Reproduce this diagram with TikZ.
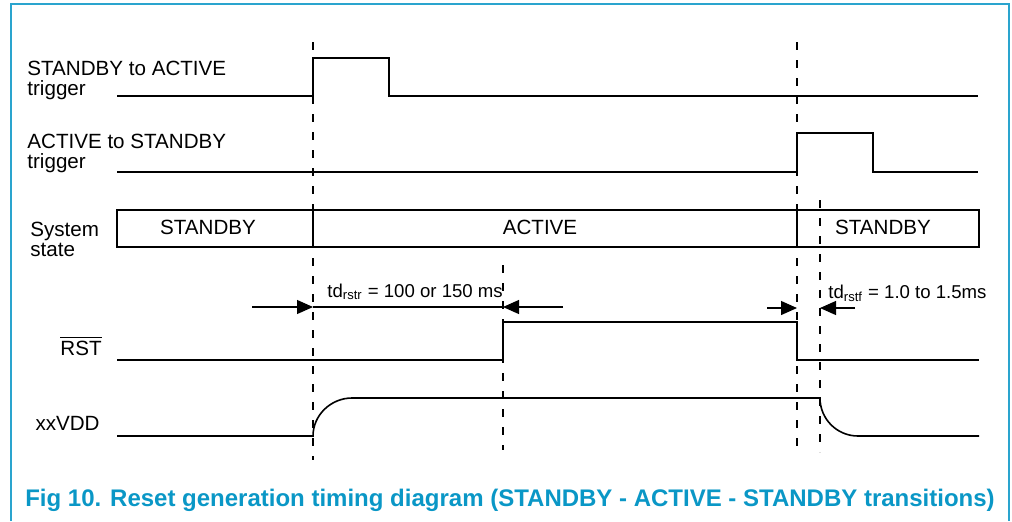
\documentclass[tikz,border=0pt]{standalone}
\usepackage{fontspec}
\setmainfont{Liberation Sans}
\usetikzlibrary{arrows.meta}
\definecolor{Frame}{HTML}{2AA4CE}
\definecolor{Caption}{HTML}{0A97C6}

\begin{document}
\begin{tikzpicture}[x=0.5pt,y=-0.5pt,
  lbl/.style={inner sep=0pt,font=\fontsize{10.3}{9.8}\selectfont,align=left},
  dimtxt/.style={inner sep=0pt,font=\fontsize{9.3}{10}\selectfont},
  sig/.style={line width=0.8pt,line join=miter},
  guide/.style={line width=0.7pt,dash pattern=on 4pt off 5pt},
  dim/.style={line width=0.6pt,-{Triangle[length=8pt,width=7pt]}}
]
\useasboundingbox (0,0) rectangle (1012,521);
\draw[Frame,line width=0.8pt] (11,521) -- (11,4) -- (1009,4) -- (1009,521);

% row labels
\node[lbl,anchor=north west] (lblStoA) at (27,61) {STANDBY to ACTIVE\\trigger};
\node[lbl,anchor=north west] (lblAtoS) at (27,134) {ACTIVE to STANDBY\\trigger};
\node[lbl,anchor=north west] (lblState) at (30,222) {System\\state};
\node[lbl,anchor=base east] (lblRst) at (102,355) {$\overline{\mbox{RST}}$};
\node[lbl,anchor=base east] (lblVdd) at (100,430) {xxVDD};

% waveforms
\draw[sig] (117,96) -- (313,96) -- (313,58) -- (389,58) -- (389,96) -- (978,96);
\draw[sig] (117,172) -- (797,172) -- (797,133) -- (873,133) -- (873,172) -- (978,172);
\draw[sig] (117,210) rectangle (979,247);
\draw[sig] (313,210) -- (313,247) (797,210) -- (797,247);
\node[lbl,anchor=base] (stStby1) at (208,234) {STANDBY};
\node[lbl,anchor=base] (stActive) at (540,234) {ACTIVE};
\node[lbl,anchor=base] (stStby2) at (883,234) {STANDBY};
\draw[sig] (117,360) -- (503,360) -- (503,322) -- (797,322) -- (797,360) -- (979,360);
\draw[sig] (117,436) -- (313,436) .. controls (313,415) and (331,398) .. (352,398)
  -- (820,398) .. controls (820,419) and (837,436) .. (858,436) -- (979,436);

% time markers
\draw[guide] (313,42) -- (313,460);
\draw[guide] (797,42) -- (797,455);
\draw[guide] (503,265) -- (503,450);
\draw[guide] (820,200) -- (820,452);

% reset delays
\coordinate (rA) at (252,307);
\coordinate (rB) at (313,307);
\coordinate (rC) at (503,307);
\coordinate (rD) at (563,307);
\draw[dim] (rA) -- (rB);
\draw[line width=0.6pt] (rB) -- (rC);
\draw[dim] (rD) -- (rC);
\node[dimtxt,anchor=base west] (tdr) at (327,297) {td\textsubscript{rstr} = 100 or 150 ms};
\coordinate (fA) at (767,308);
\coordinate (fB) at (797,308);
\coordinate (fC) at (820,308);
\coordinate (fD) at (855,308);
\draw[dim] (fA) -- (fB);
\draw[dim] (fD) -- (fC);
\node[dimtxt,anchor=base west] (tdf) at (828,298) {td\textsubscript{rstf} = 1.0 to 1.5ms};

\node[inner sep=0pt,anchor=base,text=Caption,font=\fontsize{12}{13}\selectfont\bfseries] (caption) at (510,506)
  {Fig 10. Reset generation timing diagram (STANDBY - ACTIVE - STANDBY transitions)};
\end{tikzpicture}
\end{document}
